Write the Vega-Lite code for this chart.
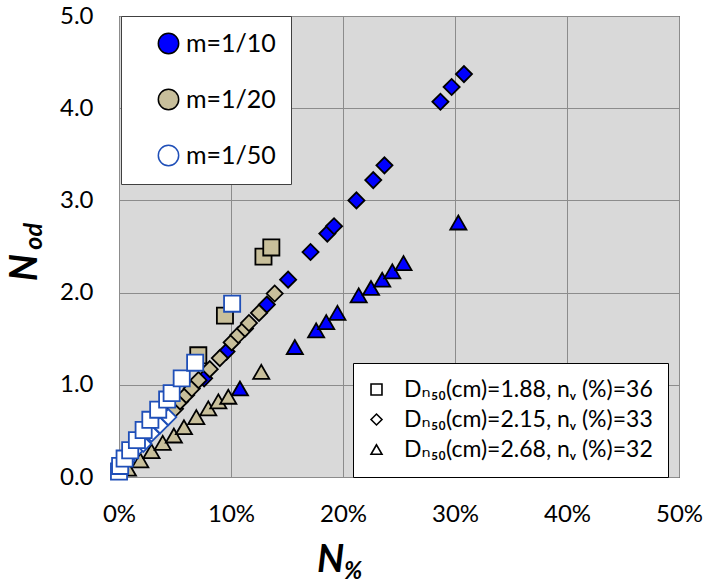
{
  "$schema": "https://vega.github.io/schema/vega-lite/v6.json",
  "width": 560,
  "height": 461,
  "autosize": {"type": "none"},
  "padding": {"left": 119, "top": 16, "right": 25, "bottom": 110},
  "background": "white",
  "config": {
    "font": "Lato",
    "view": {"fill": "#d9d9d9", "stroke": "#000000", "strokeWidth": 1}
  },
  "layer": [
    {
      "data": {
        "values": [
          {"x": 7.6, "y": 1.07, "m": "1/10", "d": "2.15"},
          {"x": 9.6, "y": 1.36, "m": "1/10", "d": "2.15"},
          {"x": 13.2, "y": 1.87, "m": "1/10", "d": "2.15"},
          {"x": 15.1, "y": 2.14, "m": "1/10", "d": "2.15"},
          {"x": 17.1, "y": 2.44, "m": "1/10", "d": "2.15"},
          {"x": 18.6, "y": 2.64, "m": "1/10", "d": "2.15"},
          {"x": 19.2, "y": 2.72, "m": "1/10", "d": "2.15"},
          {"x": 21.2, "y": 3.0, "m": "1/10", "d": "2.15"},
          {"x": 22.7, "y": 3.22, "m": "1/10", "d": "2.15"},
          {"x": 23.7, "y": 3.38, "m": "1/10", "d": "2.15"},
          {"x": 28.7, "y": 4.07, "m": "1/10", "d": "2.15"},
          {"x": 29.7, "y": 4.23, "m": "1/10", "d": "2.15"},
          {"x": 30.8, "y": 4.37, "m": "1/10", "d": "2.15"},
          {"x": 10.8, "y": 0.96, "m": "1/10", "d": "2.68"},
          {"x": 15.7, "y": 1.41, "m": "1/10", "d": "2.68"},
          {"x": 17.6, "y": 1.59, "m": "1/10", "d": "2.68"},
          {"x": 18.5, "y": 1.68, "m": "1/10", "d": "2.68"},
          {"x": 19.5, "y": 1.78, "m": "1/10", "d": "2.68"},
          {"x": 21.4, "y": 1.97, "m": "1/10", "d": "2.68"},
          {"x": 22.5, "y": 2.05, "m": "1/10", "d": "2.68"},
          {"x": 23.5, "y": 2.14, "m": "1/10", "d": "2.68"},
          {"x": 24.4, "y": 2.23, "m": "1/10", "d": "2.68"},
          {"x": 25.4, "y": 2.32, "m": "1/10", "d": "2.68"},
          {"x": 30.3, "y": 2.76, "m": "1/10", "d": "2.68"},
          {"x": 7.08, "y": 1.32, "m": "1/20", "d": "1.88"},
          {"x": 9.46, "y": 1.75, "m": "1/20", "d": "1.88"},
          {"x": 12.9, "y": 2.39, "m": "1/20", "d": "1.88"},
          {"x": 13.6, "y": 2.49, "m": "1/20", "d": "1.88"},
          {"x": 5.0, "y": 0.74, "m": "1/20", "d": "2.15"},
          {"x": 5.45, "y": 0.82, "m": "1/20", "d": "2.15"},
          {"x": 6.0, "y": 0.89, "m": "1/20", "d": "2.15"},
          {"x": 6.5, "y": 0.96, "m": "1/20", "d": "2.15"},
          {"x": 7.1, "y": 1.05, "m": "1/20", "d": "2.15"},
          {"x": 8.1, "y": 1.17, "m": "1/20", "d": "2.15"},
          {"x": 9.0, "y": 1.29, "m": "1/20", "d": "2.15"},
          {"x": 10.06, "y": 1.46, "m": "1/20", "d": "2.15"},
          {"x": 10.65, "y": 1.54, "m": "1/20", "d": "2.15"},
          {"x": 11.25, "y": 1.61, "m": "1/20", "d": "2.15"},
          {"x": 11.6, "y": 1.67, "m": "1/20", "d": "2.15"},
          {"x": 12.5, "y": 1.78, "m": "1/20", "d": "2.15"},
          {"x": 13.9, "y": 1.99, "m": "1/20", "d": "2.15"},
          {"x": 0.8, "y": 0.09, "m": "1/20", "d": "2.68"},
          {"x": 1.9, "y": 0.18, "m": "1/20", "d": "2.68"},
          {"x": 2.9, "y": 0.28, "m": "1/20", "d": "2.68"},
          {"x": 3.9, "y": 0.37, "m": "1/20", "d": "2.68"},
          {"x": 4.9, "y": 0.45, "m": "1/20", "d": "2.68"},
          {"x": 5.8, "y": 0.54, "m": "1/20", "d": "2.68"},
          {"x": 6.9, "y": 0.65, "m": "1/20", "d": "2.68"},
          {"x": 7.97, "y": 0.745, "m": "1/20", "d": "2.68"},
          {"x": 8.87, "y": 0.82, "m": "1/20", "d": "2.68"},
          {"x": 9.76, "y": 0.87, "m": "1/20", "d": "2.68"},
          {"x": 12.7, "y": 1.14, "m": "1/20", "d": "2.68"},
          {"x": 0.1, "y": 0.076, "m": "1/50", "d": "2.15"},
          {"x": 0.7, "y": 0.18, "m": "1/50", "d": "2.15"},
          {"x": 1.43, "y": 0.29, "m": "1/50", "d": "2.15"},
          {"x": 2.17, "y": 0.36, "m": "1/50", "d": "2.15"},
          {"x": 2.9, "y": 0.47, "m": "1/50", "d": "2.15"},
          {"x": 3.66, "y": 0.56, "m": "1/50", "d": "2.15"},
          {"x": 4.4, "y": 0.65, "m": "1/50", "d": "2.15"},
          {"x": 0.0, "y": 0.06, "m": "1/50", "d": "1.88"},
          {"x": 0.1, "y": 0.12, "m": "1/50", "d": "1.88"},
          {"x": 0.5, "y": 0.2, "m": "1/50", "d": "1.88"},
          {"x": 1.0, "y": 0.29, "m": "1/50", "d": "1.88"},
          {"x": 1.6, "y": 0.4, "m": "1/50", "d": "1.88"},
          {"x": 2.2, "y": 0.51, "m": "1/50", "d": "1.88"},
          {"x": 2.8, "y": 0.62, "m": "1/50", "d": "1.88"},
          {"x": 3.5, "y": 0.73, "m": "1/50", "d": "1.88"},
          {"x": 4.3, "y": 0.84, "m": "1/50", "d": "1.88"},
          {"x": 4.7, "y": 0.91, "m": "1/50", "d": "1.88"},
          {"x": 5.6, "y": 1.07, "m": "1/50", "d": "1.88"},
          {"x": 6.8, "y": 1.24, "m": "1/50", "d": "1.88"},
          {"x": 10.1, "y": 1.88, "m": "1/50", "d": "1.88"}
        ]
      },
      "mark": {"type": "point", "filled": true, "opacity": 1, "size": 260, "strokeWidth": 1.8, "strokeOpacity": 1},
      "encoding": {
        "x": {
          "field": "x", "type": "quantitative",
          "scale": {"domain": [0, 50], "nice": false, "zero": false},
          "axis": {
            "values": [0, 10, 20, 30, 40, 50],
            "labelExpr": "datum.value + '%'",
            "labelFlush": false,
            "labelFontSize": 24, "labelColor": "#000000", "labelPadding": 25,
            "ticks": false, "domain": false,
            "grid": true, "gridColor": "#8c8c8c", "gridWidth": 1, "gridOpacity": 1,
            "title": "N", "titleFontSize": 38, "titleFontWeight": "bold", "titleFontStyle": "italic",
            "titleColor": "#000000", "titleX": 211, "titleY": 83, "titleAlign": "center", "titleBaseline": "middle"
          }
        },
        "y": {
          "field": "y", "type": "quantitative",
          "scale": {"domain": [0, 5], "nice": false, "zero": false},
          "axis": {
            "values": [0, 1, 2, 3, 4, 5],
            "format": ".1f",
            "labelFlush": false,
            "labelFontSize": 24, "labelColor": "#000000", "labelPadding": 26,
            "ticks": false, "domain": false,
            "grid": true, "gridColor": "#8c8c8c", "gridWidth": 1, "gridOpacity": 1,
            "title": "N", "titleFontSize": 38, "titleFontWeight": "bold", "titleFontStyle": "italic",
            "titleColor": "#000000", "titleAngle": -90, "titleX": -94, "titleY": 251, "titleAlign": "center", "titleBaseline": "middle"
          }
        },
        "fill": {
          "field": "m", "type": "nominal",
          "scale": {"domain": ["1/10", "1/20", "1/50"], "range": ["#0000ff", "#c8bf9b", "#ffffff"]},
          "legend": {
            "title": null, "orient": "none", "legendX": 2, "legendY": 0,
            "symbolType": "circle", "symbolSize": 415, "symbolStrokeWidth": 1.5,
            "labelFont": "Lato", "labelFontSize": 25, "labelColor": "#000000",
            "labelExpr": "'m=' + datum.label + '\u2003'",
            "labelLimit": 300,
            "padding": 15, "symbolOffset": 20, "labelOffset": 5, "rowPadding": 29,
            "fillColor": "#ffffff", "strokeColor": "#404040"
          }
        },
        "stroke": {
          "field": "m", "type": "nominal",
          "scale": {"domain": ["1/10", "1/20", "1/50"], "range": ["#000000", "#000000", "#1f4fb8"]},
          "legend": {
            "title": null, "orient": "none", "legendX": 2, "legendY": 0,
            "symbolType": "circle", "symbolSize": 415, "symbolStrokeWidth": 1.5,
            "labelFont": "Lato", "labelFontSize": 25, "labelColor": "#000000",
            "labelExpr": "'m=' + datum.label + '\u2003'",
            "labelLimit": 300,
            "padding": 15, "symbolOffset": 20, "labelOffset": 5, "rowPadding": 29,
            "fillColor": "#ffffff", "strokeColor": "#404040"
          }
        },
        "shape": {
          "field": "d", "type": "nominal",
          "scale": {"domain": ["1.88", "2.15", "2.68"], "range": ["square", "diamond", "triangle-up"]},
          "legend": {
            "title": null, "orient": "none", "legendX": 234, "legendY": 347,
            "symbolSize": 120, "symbolFillColor": "#ffffff", "symbolStrokeColor": "#000000", "symbolStrokeWidth": 1.6,
            "labelFont": "Lato, DejaVu Sans", "labelFontSize": 23, "labelColor": "#000000",
            "labelExpr": "'D\u2099\u2085\u2080(cm)=' + datum.label + ', n\u1d65 (%)=' + (datum.label == '1.88' ? '36' : datum.label == '2.15' ? '33' : '32')",
            "labelLimit": 400,
            "padding": 15, "symbolOffset": -3, "labelOffset": 16, "rowPadding": 6,
            "fillColor": "#ffffff", "strokeColor": "#000000",
            "encode": {"legend": {"update": {"strokeWidth": {"value": 2}}}}
          }
        }
      }
    },
    {
      "data": {"values": [{"t": "od", "x": -7.6, "y": 2.61}]},
      "mark": {"type": "text", "font": "Lato", "fontSize": 25, "fontWeight": "bold", "fontStyle": "italic", "angle": 270, "align": "center", "baseline": "middle", "color": "#000000"},
      "encoding": {
        "text": {"field": "t"},
        "x": {"field": "x", "type": "quantitative"},
        "y": {"field": "y", "type": "quantitative"}
      }
    },
    {
      "data": {"values": [{"t": "%", "x": 20.9, "y": -1.03}]},
      "mark": {"type": "text", "font": "Lato", "fontSize": 24, "fontWeight": "bold", "fontStyle": "italic", "align": "center", "baseline": "middle", "color": "#000000"},
      "encoding": {
        "text": {"field": "t"},
        "x": {"field": "x", "type": "quantitative"},
        "y": {"field": "y", "type": "quantitative"}
      }
    }
  ]
}
